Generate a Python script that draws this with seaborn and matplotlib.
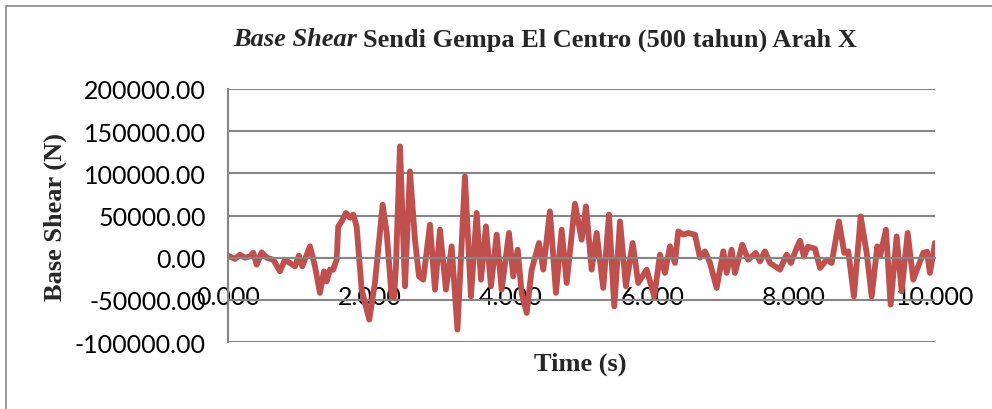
import numpy as np
import pandas as pd
import matplotlib.pyplot as plt
import seaborn as sns
from matplotlib.patches import Rectangle
from matplotlib.ticker import FuncFormatter

# time (s) and base shear (N)
time_s = [
    0.000, 0.099, 0.170, 0.240, 0.311, 0.358, 0.406, 0.477, 0.547, 0.641,
    0.735, 0.806, 0.877, 0.948, 1.004, 1.051, 1.160, 1.231, 1.301, 1.358,
    1.396, 1.443, 1.489, 1.537, 1.560, 1.608, 1.669, 1.726, 1.772, 1.820,
    1.891, 1.999, 2.079, 2.188, 2.245, 2.315, 2.348, 2.376, 2.433, 2.504,
    2.574, 2.645, 2.702, 2.762, 2.857, 2.928, 2.999, 3.083, 3.164, 3.246,
    3.352, 3.437, 3.518, 3.579, 3.649, 3.720, 3.801, 3.871, 3.975, 4.035,
    4.098, 4.154, 4.225, 4.296, 4.399, 4.460, 4.554, 4.639, 4.720, 4.791,
    4.908, 5.003, 5.064, 5.144, 5.215, 5.308, 5.389, 5.464, 5.545, 5.629,
    5.724, 5.803, 5.922, 6.030, 6.110, 6.181, 6.252, 6.322, 6.369, 6.440,
    6.511, 6.605, 6.676, 6.747, 6.818, 6.912, 7.006, 7.054, 7.124, 7.171,
    7.274, 7.359, 7.464, 7.525, 7.595, 7.666, 7.808, 7.902, 7.963, 8.044,
    8.091, 8.147, 8.204, 8.303, 8.374, 8.468, 8.539, 8.642, 8.717, 8.774,
    8.854, 8.949, 9.034, 9.105, 9.184, 9.222, 9.307, 9.373, 9.458, 9.529,
    9.614, 9.693, 9.764, 9.834, 9.887, 9.929, 10.000,
]
base_shear = [
    2400, -1500, 3600, 0, 1500, 5900, -8300, 6300, 0, -2400,
    -16200, -2400, -6300, -10300, 2400, -10300, 13400, -10300, -41800, -16200,
    -28100, -14200, -14200, -2400, 37100, 43000, 53000, 47400, 51000, 37100,
    -37900, -73500, -29600, 62800, 29600, -45900, -47400, -10300, 131900, -34000,
    102300, 21300, -22200, -26100, 39100, -37900, 33200, -37900, 13400, -85300,
    96300, -45900, 53000, -26100, 37100, -34000, 27300, -37900, 29300, -22200,
    9500, -41800, -65500, -14200, 17400, -14200, 54900, -41800, 33200, -30000,
    64000, 21300, 60800, -14200, 29300, -35900, 51000, -57700, 43000, -34000,
    17400, -30000, -14200, -45900, 3600, -18100, 13400, -6300, 31200, 27300,
    29300, 27300, 0, 7500, -6300, -35900, 7500, -18100, 9500, -18100,
    15400, -2400, 5600, -4400, 7500, -6300, -14200, 3600, -6300, 11500,
    20100, 1200, 13000, 10700, -12200, -2400, -6300, 43000, 5600, 7500,
    -45900, 48900, 5600, -45900, 13400, 1500, 33200, -55700, 25200, -39900,
    29300, -26100, -10300, 5600, 7100, -18100, 17400,
]
x_ticks = [0, 2, 4, 6, 8, 10]
y_ticks = [-100000, -50000, 0, 50000, 100000, 150000, 200000]

df = pd.DataFrame({"time": time_s, "shear": base_shear})

sns.set_theme(style="white")
plt.rcParams["font.family"] = ["Lato", "DejaVu Sans"]
plt.rcParams["axes.unicode_minus"] = False

fig = plt.figure(figsize=(9.92, 4.10), dpi=100)
ax = fig.add_axes([0.2298, 0.1634, 0.7127, 0.6171])

sns.lineplot(data=df, x="time", y="shear", color="#C0504D", linewidth=4.2,
             sort=False, estimator=None, ax=ax, solid_joinstyle="round",
             solid_capstyle="round")

ax.set_xlim(0, 10)
ax.set_ylim(-100000, 200000)
ax.set_xticks(x_ticks)
ax.set_yticks(y_ticks)
ax.xaxis.set_major_formatter(FuncFormatter(lambda v, p: f"{v:.3f}"))
ax.yaxis.set_major_formatter(FuncFormatter(lambda v, p: f"{v:.2f}"))
ax.grid(axis="y", color="#868686", linewidth=1.5)
ax.set_axisbelow(True)

for side in ["top", "right"]:
    ax.spines[side].set_visible(False)
ax.spines["left"].set_color("#868686")
ax.spines["left"].set_linewidth(1.5)
ax.spines["bottom"].set_position(("data", 0))
ax.spines["bottom"].set_color("#868686")
ax.spines["bottom"].set_linewidth(1.5)

ax.tick_params(axis="y", length=0, pad=16, labelsize=18, labelcolor="black")
ax.tick_params(axis="x", length=0, pad=20, labelsize=18, labelcolor="black")

serif = ["Liberation Serif", "DejaVu Serif"]
ax.set_xlabel("")
ax.set_ylabel("")
fig.text(580 / 992, 1 - 364 / 410, "Time (s)", fontsize=19, fontweight="bold",
         family=serif, ha="center", va="center")
fig.text(55 / 992, 1 - 217 / 410, "Base Shear (N)", fontsize=19, fontweight="bold",
         family=serif, ha="center", va="center", rotation=90)

# title: italic "Base Shear" followed by bold remainder
t1 = fig.text(233 / 992, 1 - 40 / 410, "Base Shear", family=serif, fontsize=19,
              fontweight="bold", style="italic", va="center", ha="left")
fig.canvas.draw()
bb = t1.get_window_extent()
fig.text(bb.x1 / 992 + 0.006, 1 - 40 / 410, "Sendi Gempa El Centro (500 tahun) Arah X",
         family=serif, fontsize=19, fontweight="bold", va="center", ha="left")

fig.patches.append(Rectangle((6 / 992, -0.1), 1.2, 1.1 - 7 / 410, fill=False,
                             edgecolor="#868686", linewidth=1.2,
                             transform=fig.transFigure, figure=fig))

plt.savefig("out.png", dpi=100)
